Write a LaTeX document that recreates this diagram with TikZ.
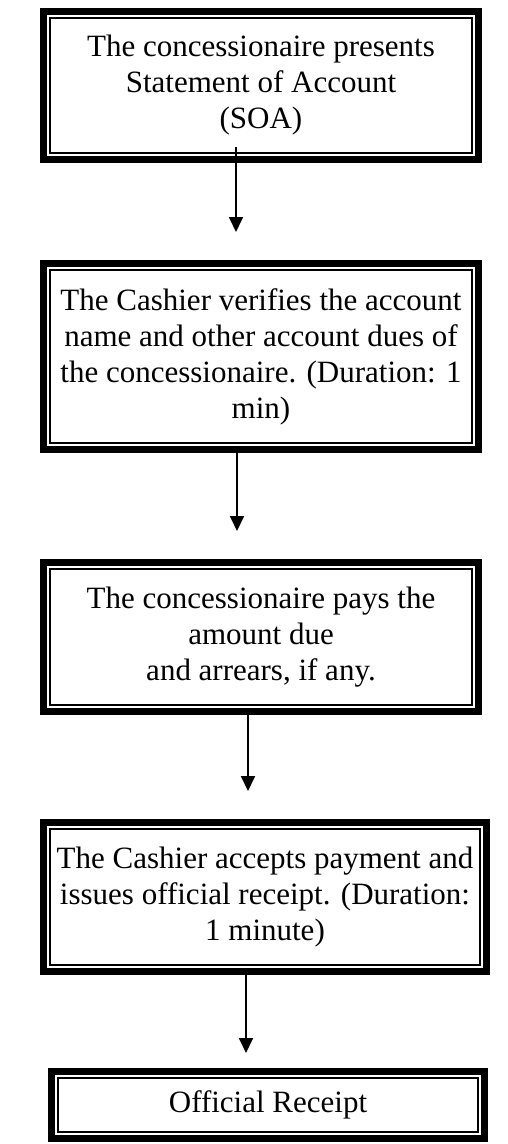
\documentclass[tikz,border=0pt]{standalone}
\usepackage{fontspec}
\setmainfont{Liberation Serif}
\usetikzlibrary{arrows.meta}
\begin{document}
\begin{tikzpicture}[x=1pt,y=-1pt,
  stepbox/.style={draw, line width=7pt, outer sep=0pt, inner sep=0pt, align=center,
    font=\fontsize{31}{36}\selectfont,
    append after command={\pgfextra{\draw[line width=1.6pt]
      ([shift={(6.25,6.25)}]\tikzlastnode.north west) rectangle
      ([shift={(-6.25,-6.25)}]\tikzlastnode.south east);}}},
  arr/.style={line width=1.8pt, -{Triangle[length=15pt,width=14pt]}}]
\useasboundingbox (0,0) rectangle (508,1144);
\node[stepbox, minimum width=435pt, minimum height=148pt] (b1) at (261,85.5)
  {The concessionaire presents\\Statement of Account\\(SOA)};
\node[stepbox, minimum width=435pt, minimum height=186pt] (b2) at (261,356.5)
  {The Cashier verifies the account\\name and other account dues of\\the concessionaire. (Duration: 1\\min)};
\node[stepbox, minimum width=435pt, minimum height=149pt] (b3) at (261,637)
  {The concessionaire pays the\\amount due\\and arrears, if any.};
\node[stepbox, minimum width=443pt, minimum height=149pt] (b4) at (265,897)
  {The Cashier accepts payment and\\issues official receipt. (Duration:\\1 minute)};
\node[stepbox, minimum width=433pt, minimum height=67pt] (b5) at (268,1105)
  {Official Receipt};
\draw[arr] ([xshift=-25pt,yshift=12.5pt]b1.south) -- ([xshift=-25pt,yshift=31.5pt]b2.north);
\draw[arr] ([xshift=-24pt,yshift=-3.5pt]b2.south) -- ([xshift=-24pt,yshift=31.5pt]b3.north);
\draw[arr] ([xshift=-13pt,yshift=-3.5pt]b3.south) -- ([xshift=-17pt,yshift=31.5pt]b4.north);
\draw[arr] ([xshift=-19pt,yshift=-3.5pt]b4.south) -- ([xshift=-22pt,yshift=18.5pt]b5.north);
\end{tikzpicture}
\end{document}
